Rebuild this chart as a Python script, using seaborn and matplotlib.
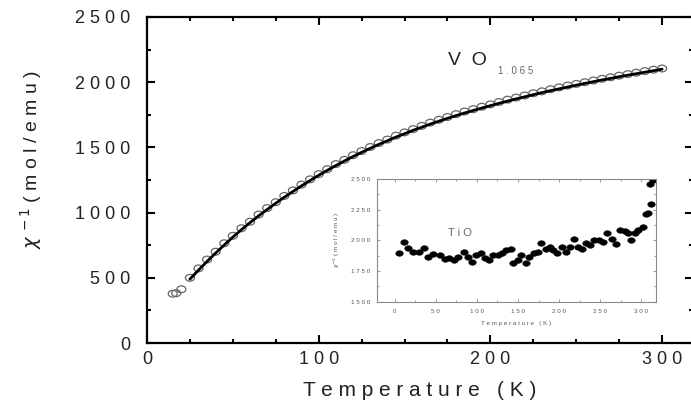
import matplotlib
matplotlib.use('Agg')
import matplotlib.pyplot as plt
from matplotlib.path import Path
from matplotlib.ticker import FixedLocator
import seaborn as sns

# VO1.065: inverse susceptibility, open circles
vo_temp = [15, 17, 20, 25, 30, 35, 40, 45, 50, 55, 60, 65, 70, 75, 80, 85, 90, 95,
           100, 105, 110, 115, 120, 125, 130, 135, 140, 145, 150, 155, 160, 165,
           170, 175, 180, 185, 190, 195, 200, 205, 210, 215, 220, 225, 230, 235,
           240, 245, 250, 255, 260, 265, 270, 275, 280, 285, 290, 295, 300]
vo_chi = [378, 382, 412, 500, 572, 640, 700, 765, 822, 880, 930, 985, 1035, 1080,
          1128, 1170, 1215, 1255, 1295, 1333, 1372, 1405, 1440, 1472, 1503, 1533,
          1560, 1590, 1615, 1640, 1665, 1690, 1712, 1733, 1755, 1775, 1793, 1812,
          1830, 1848, 1866, 1882, 1898, 1915, 1930, 1946, 1960, 1974, 1987, 2000,
          2013, 2026, 2038, 2050, 2062, 2073, 2085, 2096, 2105]

# fitted curve (solid line)
fit_temp = [25, 30, 35, 40, 45, 50, 55, 60, 65, 70, 75, 80, 85, 90, 95, 100, 105,
            110, 115, 120, 125, 130, 135, 140, 145, 150, 155, 160, 165, 170, 175,
            180, 185, 190, 195, 200, 205, 210, 215, 220, 225, 230, 235, 240, 245,
            250, 255, 260, 265, 270, 275, 280, 285, 290, 295, 300]
fit_chi = [490, 559, 626, 690, 752, 812, 869, 923, 975, 1024, 1072, 1118, 1162,
           1205, 1246, 1286, 1324, 1361, 1396, 1430, 1462, 1493, 1523, 1551, 1579,
           1605, 1631, 1655, 1679, 1701, 1723, 1744, 1764, 1783, 1802, 1820, 1838,
           1855, 1872, 1888, 1904, 1920, 1935, 1949, 1963, 1977, 1991, 2004, 2017,
           2029, 2042, 2054, 2065, 2077, 2088, 2100]

# TiO inset, filled dots
tio_temp = [5, 11, 16, 22, 30, 36, 40, 47, 55, 61, 66, 72, 77, 84, 89, 94, 99, 105,
            110, 115, 120, 126, 131, 136, 141, 144, 150, 154, 160, 164, 170, 174,
            178, 184, 189, 193, 197, 203, 208, 213, 218, 223, 228, 233, 238, 243,
            249, 254, 258, 264, 269, 274, 280, 284, 288, 292, 296, 302, 306, 308,
            312, 311, 314]
tio_chi = [1894, 1989, 1935, 1907, 1907, 1935, 1867, 1886, 1878, 1846, 1860, 1838,
           1865, 1907, 1867, 1826, 1878, 1894, 1860, 1838, 1878, 1878, 1894, 1921,
           1926, 1812, 1843, 1878, 1812, 1867, 1894, 1907, 1975, 1926, 1943, 1921,
           1894, 1943, 1907, 1943, 2008, 1943, 1926, 1981, 1962, 2003, 2003, 1989,
           2062, 2008, 1970, 2084, 2078, 2062, 2003, 2062, 2084, 2111, 2215, 2225,
           2300, 2460, 2490]

main_xticks = [0, 100, 200, 300]
main_xlabels = ['0', '1 0 0', '2 0 0', '3 0 0']
main_yticks = [0, 500, 1000, 1500, 2000, 2500]
main_ylabels = ['0', '5 0 0', '1 0 0 0', '1 5 0 0', '2 0 0 0', '2 5 0 0']
inset_xticks = [0, 50, 100, 150, 200, 250, 300]
inset_xlabels = ['0', '5 0', '1 0 0', '1 5 0', '2 0 0', '2 5 0', '3 0 0']
inset_yticks = [1500, 1750, 2000, 2250, 2500]
inset_ylabels = ['1 5 0 0', '1 7 5 0', '2 0 0 0', '2 2 5 0', '2 5 0 0']

sns.set_style('ticks')
plt.rcParams['font.family'] = ['Liberation Sans', 'DejaVu Sans']
plt.rcParams['text.color'] = '#222222'

# slightly flattened circle, the scan is squashed vertically
circ = Path.unit_circle()
ell = Path(circ.vertices * [1.0, 0.75], circ.codes)

fig = plt.figure(figsize=(6.91, 4.07), dpi=100)
ax = fig.add_axes([147 / 691, 64 / 407, 546 / 691, 326 / 407])

sns.scatterplot(x=vo_temp, y=vo_chi, ax=ax, marker=ell, s=42,
                facecolor='none', edgecolor='#666666', linewidth=0.9, zorder=2)
sns.lineplot(x=fit_temp, y=fit_chi, ax=ax, color='black', lw=2.0,
             estimator=None, zorder=3)

ax.set_xlim(0, 318)
ax.set_ylim(0, 2500)
ax.set_xticks(main_xticks, main_xlabels)
ax.set_yticks(main_yticks, main_ylabels)
ax.xaxis.set_minor_locator(FixedLocator([25, 50, 75, 125, 150, 175, 225, 250, 275]))
ax.yaxis.set_minor_locator(FixedLocator([250, 750, 1250, 1750, 2250]))
ax.tick_params(which='both', direction='in', top=True, right=True,
               colors='black', labelcolor='#222222', width=1.5)
ax.tick_params(which='major', length=6, labelsize=13)
ax.tick_params(which='minor', length=3)
ax.tick_params(axis='x', pad=6)
ax.tick_params(axis='y', pad=12)
for sp in ax.spines.values():
    sp.set_linewidth(1.6)
    sp.set_color('black')
    sp.set_visible(True)

fig.text(420 / 691, 1 - 390 / 407, 'T e m p e r a t u r e   ( K )',
         ha='center', va='center', fontsize=15)
fig.text(31 / 691, 1 - 160 / 407, r'$\chi^{\,-1}$' + ' ( m o l / e m u )',
         ha='center', va='center', rotation=90, fontsize=14)
fig.text(448 / 691, 1 - 65 / 407, 'V  O', ha='left', va='baseline', fontsize=14)
fig.text(498 / 691, 1 - 74 / 407, '1 . 0 6 5', ha='left', va='baseline',
         fontsize=7, color='#666666')

# inset with TiO data
ins = fig.add_axes([376.7 / 691, 105.3 / 407, 279.3 / 691, 122.7 / 407])
sns.scatterplot(x=tio_temp, y=tio_chi, ax=ins, marker=ell, s=30,
                color='black', edgecolor='black', linewidth=0.3)
ins.set_xlim(-22, 318)
ins.set_ylim(1500, 2500)
ins.set_xticks(inset_xticks, inset_xlabels)
ins.set_yticks(inset_yticks, inset_ylabels)
ins.xaxis.set_minor_locator(FixedLocator([25, 75, 125, 175, 225, 275]))
ins.yaxis.set_minor_locator(FixedLocator([1625, 1875, 2125, 2375]))
ins.tick_params(which='both', direction='in', top=True, right=True,
                colors='#888888', labelcolor='#555555', width=0.6)
ins.tick_params(which='major', length=2.5, labelsize=4.5, pad=5)
ins.tick_params(which='minor', length=1.5)
for sp in ins.spines.values():
    sp.set_linewidth(0.8)
    sp.set_color('#888888')
    sp.set_visible(True)
ins.set_xlabel('T e m p e r a t u r e   ( K )', fontsize=4.5, color='#555555',
               labelpad=5)
ins.set_ylabel(r'$\chi^{-1}$' + ' ( m o l / e m u )', fontsize=4.5,
               color='#555555', labelpad=6)
ins.text(79, 2060, 'T i O', fontsize=8, color='#666666', ha='center', va='center')

plt.savefig('out.png', dpi=100)
